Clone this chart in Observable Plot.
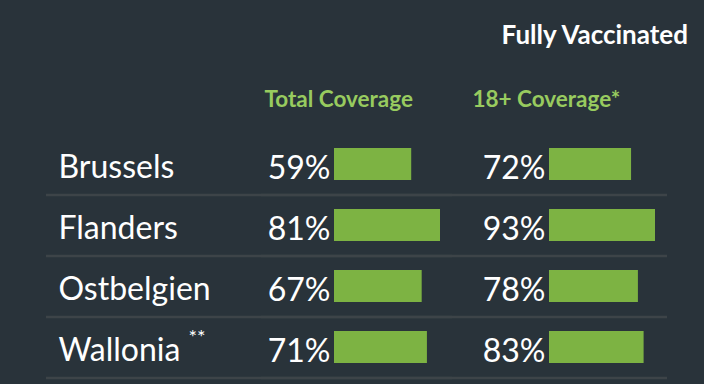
<!DOCTYPE html>
<html>
<head>
<meta charset="utf-8">
<script src="https://cdn.jsdelivr.net/npm/d3@7"></script>
<script src="https://cdn.jsdelivr.net/npm/@observablehq/plot@0.6"></script>
<style>
  html, body { margin: 0; padding: 0; background: #29333a; }
  body { width: 704px; height: 384px; overflow: hidden; font-family: Lato, "Open Sans", sans-serif; }
  #title { height: 60px; box-sizing: border-box; padding-top: 21px; padding-right: 16px; text-align: right;
           color: #ffffff; font-weight: 700; font-size: 26px; line-height: 26px; }
  #chart svg { display: block; }
</style>
</head>
<body>
<div id="title">Fully Vaccinated</div>
<div id="chart"></div>
<script>
// Data
const regions = ["Brussels", "Flanders", "Ostbelgien", "Wallonia"];
const regionNotes = ["", "", "", "**"];
const columns = ["Total Coverage", "18+ Coverage*"];
const totalCoverage = [59, 81, 67, 71];
const adultCoverage = [72, 93, 78, 83];

const series = [totalCoverage, adultCoverage];
const rows = [];
columns.forEach((c, ci) => {
  const vals = series[ci];
  const max = d3.max(vals);
  regions.forEach((r, ri) => rows.push({column: c, region: r, value: vals[ri], norm: vals[ri] / max}));
});
const notes = regions.map((r, i) => ({region: r, note: regionNotes[i], column: columns[0]})).filter(d => d.note);

const green = "#7db343";
const headGreen = "#98cb5f";

const chart = Plot.plot({
  width: 704,
  height: 324,
  marginTop: 74,
  marginBottom: 6,
  marginLeft: 334,
  marginRight: 49,
  style: {background: "transparent", color: "white", fontFamily: "Lato, 'Open Sans', sans-serif"},
  x: {domain: [0, 1], axis: null},
  y: {domain: regions, paddingInner: 0.475, paddingOuter: 0.2375, axis: null},
  fx: {domain: columns, paddingInner: 0.507, paddingOuter: 0, axis: null},
  marks: [
    Plot.ruleY(regions, {y: d => d, dy: 30.5, stroke: "#3d4448", strokeWidth: 2.5, insetLeft: -288, insetRight: -12}),
    Plot.barX(rows, {fx: "column", y: "region", x1: 0, x2: "norm", fill: green}),
    Plot.text(rows, {fx: "column", y: "region", frameAnchor: "left", text: d => d.value + "%",
      textAnchor: "end", dx: -4, dy: 4, fontSize: 32, fill: "white"}),
    Plot.axisY({tickSize: 0, tickPadding: 276, textAnchor: "start", fontSize: 32, color: "white", label: null, dy: 3}),
    Plot.text(notes, {fx: "column", y: "region", frameAnchor: "left", text: "note", textAnchor: "start",
      dx: -146, dy: -10, fontSize: 20, fill: "white"}),
    Plot.text([columns[0]], {fx: d => d, frameAnchor: "top-left", text: d => d, textAnchor: "start",
      lineAnchor: "bottom", dx: -70, dy: -28, fontSize: 22.5, fontWeight: 700, fill: headGreen}),
    Plot.text([columns[1]], {fx: d => d, frameAnchor: "top-left", text: d => d, textAnchor: "start",
      lineAnchor: "bottom", dx: -77, dy: -28, fontSize: 22.5, fontWeight: 700, fill: headGreen})
  ]
});
document.getElementById("chart").appendChild(chart);
</script>
</body>
</html>
